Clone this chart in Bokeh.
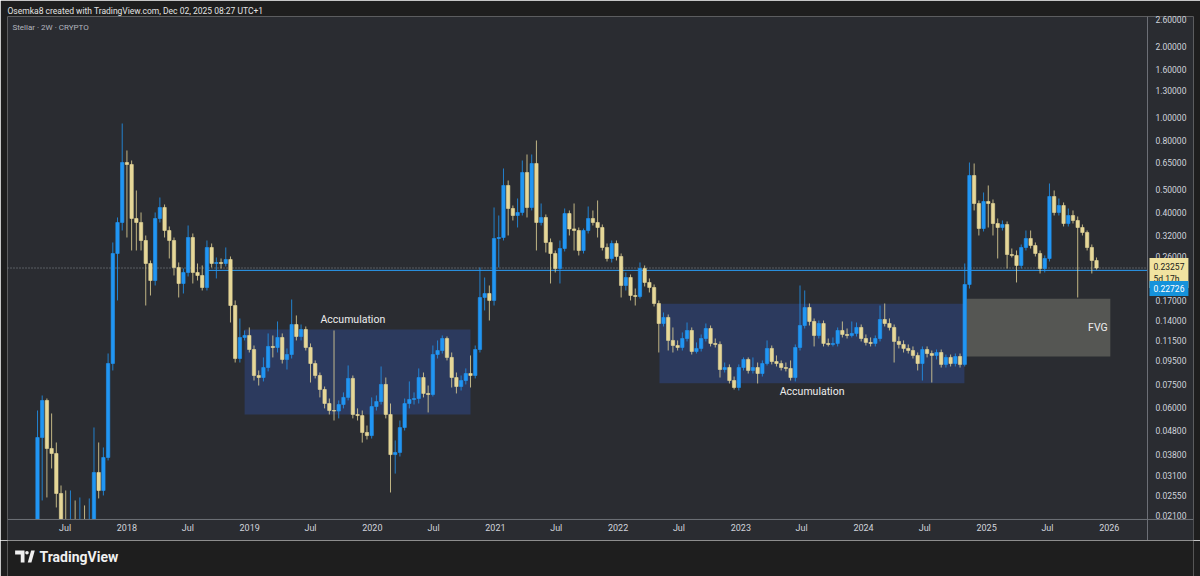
import pandas as pd
from bokeh.plotting import figure
from bokeh.models import (ColumnDataSource, FixedTicker, PrintfTickFormatter,
                          CustomJSTickFormatter, Label, Span, Range1d, Title)
from bokeh.layouts import column
from bokeh.embed import file_html
from bokeh.resources import INLINE

# ---------------- data (XLM, 2W candles) ----------------
first_open = 0.01733
close = [
    0.04486, 0.06426, 0.04032, 0.03841, 0.02605, 0.01819, 0.01733, 0.01854, 0.01733, 0.01819,
    0.01683, 0.01909, 0.03194, 0.02682, 0.03695, 0.09204, 0.2678, 0.3619, 0.6479, 0.6355,
    0.3762, 0.3619, 0.3038, 0.2430, 0.2060, 0.3762, 0.4186, 0.3348, 0.3038, 0.2338,
    0.2001, 0.2227, 0.3128, 0.2227, 0.2163, 0.1925, 0.2839, 0.2430, 0.2454, 0.2430,
    0.2527, 0.1616, 0.0966, 0.1185, 0.1208, 0.1054, 0.0819, 0.0803, 0.0885, 0.1086,
    0.1075, 0.1185, 0.0957, 0.1004, 0.1344, 0.1196, 0.1280, 0.1075, 0.0920, 0.0819,
    0.0715, 0.0624, 0.0583, 0.0580, 0.0618, 0.0662, 0.0796, 0.0561, 0.0555, 0.0471,
    0.0457, 0.0606, 0.0636, 0.0751, 0.0561, 0.0380, 0.0388, 0.0494, 0.0624, 0.0649,
    0.0655, 0.0803, 0.0688, 0.0681, 0.1004, 0.1044, 0.1173, 0.0976, 0.0803, 0.0736,
    0.0780, 0.0835, 0.0819, 0.1054, 0.1747, 0.1816, 0.1697, 0.3098, 0.3128, 0.5183,
    0.4145, 0.3873, 0.3988, 0.5880, 0.4186, 0.6417, 0.3619, 0.3799, 0.2980, 0.2678,
    0.2315, 0.2811, 0.3949, 0.3400, 0.3348, 0.2757, 0.3348, 0.3762, 0.3619, 0.3447,
    0.2839, 0.2551, 0.2951, 0.2601, 0.1963, 0.2121, 0.1781, 0.1764, 0.2315, 0.2021,
    0.1925, 0.1648, 0.1357, 0.1439, 0.1151, 0.1096, 0.1075, 0.1173, 0.1268, 0.1034,
    0.1065, 0.1173, 0.1293, 0.1118, 0.1107, 0.0868, 0.0885, 0.0780, 0.0729, 0.0885,
    0.0957, 0.0860, 0.0885, 0.0835, 0.0920, 0.1065, 0.0938, 0.0920, 0.0885, 0.0877,
    0.0803, 0.1075, 0.1331, 0.1585, 0.1384, 0.1208, 0.1357, 0.1118, 0.1107, 0.1118,
    0.1268, 0.1220, 0.1208, 0.1232, 0.1306, 0.1173, 0.1129, 0.1118, 0.1173, 0.1411,
    0.1357, 0.1306, 0.1140, 0.1107, 0.1065, 0.1044, 0.0995, 0.0920, 0.1054, 0.1014,
    0.0995, 0.1024, 0.0912, 0.0976, 0.0920, 0.0985, 0.0912, 0.1982, 0.5711, 0.4352,
    0.3414, 0.4437, 0.4352, 0.3584, 0.3447, 0.3549, 0.2652, 0.2627, 0.2384, 0.2839,
    0.3098, 0.2894, 0.2678, 0.2315, 0.2551, 0.4658, 0.3988, 0.4268, 0.3584, 0.3873,
    0.3690, 0.3447, 0.3284, 0.2839, 0.2502, 0.23257,
]
high = [
    0.05831, 0.06745, 0.06552, 0.05664, 0.04274, 0.02815, 0.02682, 0.02682, 0.02434, 0.02506,
    0.02319, 0.02482, 0.04944, 0.04274, 0.04072, 0.10142, 0.2980, 0.3799, 0.9462, 0.7280,
    0.6606, 0.4937, 0.3988, 0.3189, 0.2502, 0.3988, 0.4613, 0.4310, 0.3481, 0.3128,
    0.2454, 0.2315, 0.3515, 0.3252, 0.2430, 0.2384, 0.3038, 0.2951, 0.2576, 0.2551,
    0.2839, 0.2601, 0.1697, 0.1425, 0.1268, 0.1306, 0.1096, 0.0860, 0.0976, 0.1232,
    0.1208, 0.1384, 0.1232, 0.1065, 0.1713, 0.1467, 0.1344, 0.1318, 0.1118, 0.0948,
    0.0843, 0.0736, 0.0655, 0.1268, 0.0643, 0.0695, 0.0903, 0.0819, 0.0595, 0.0583,
    0.0504, 0.0662, 0.0675, 0.0894, 0.0803, 0.0624, 0.0436, 0.0529, 0.0655, 0.0773,
    0.0695, 0.0877, 0.0843, 0.0743, 0.1096, 0.1151, 0.1208, 0.1196, 0.1024, 0.0843,
    0.0819, 0.0877, 0.0995, 0.1096, 0.2338, 0.2121, 0.1963, 0.4186, 0.3873, 0.6113,
    0.5440, 0.4268, 0.4568, 0.6606, 0.7003, 0.7003, 0.8022, 0.4352, 0.3911, 0.3098,
    0.2757, 0.3038, 0.4145, 0.4066, 0.4352, 0.3447, 0.3414, 0.4227, 0.4066, 0.4480,
    0.3549, 0.2951, 0.3038, 0.3038, 0.2678, 0.2227, 0.2184, 0.1906, 0.2454, 0.2384,
    0.2101, 0.1982, 0.1697, 0.1510, 0.1481, 0.1306, 0.1151, 0.1244, 0.1370, 0.1306,
    0.1129, 0.1220, 0.1357, 0.1331, 0.1173, 0.1140, 0.0929, 0.0912, 0.0811, 0.0912,
    0.0976, 0.0976, 0.0976, 0.0929, 0.0948, 0.1151, 0.1096, 0.0995, 0.0948, 0.0929,
    0.0948, 0.1107, 0.1963, 0.1870, 0.1648, 0.1425, 0.1397, 0.1397, 0.1173, 0.1185,
    0.1306, 0.1384, 0.1293, 0.1384, 0.1370, 0.1344, 0.1220, 0.1185, 0.1208, 0.1616,
    0.1648, 0.1425, 0.1344, 0.1196, 0.1151, 0.1107, 0.1086, 0.1024, 0.1086, 0.1086,
    0.1044, 0.1054, 0.1054, 0.1004, 0.1004, 0.1014, 0.1014, 0.2430, 0.6479, 0.6417,
    0.4480, 0.4842, 0.5183, 0.4524, 0.3762, 0.3690, 0.3654, 0.2811, 0.2757, 0.2923,
    0.3348, 0.3348, 0.2980, 0.2757, 0.2627, 0.5284, 0.4937, 0.4568, 0.4394, 0.4145,
    0.4066, 0.3836, 0.3549, 0.3348, 0.2923, 0.2576,
]
low = [
    0.01572, 0.02434, 0.02506, 0.03321, 0.02274, 0.01572, 0.01497, 0.01527, 0.01497, 0.01468,
    0.01426, 0.01468, 0.01819, 0.02482, 0.02555, 0.03589, 0.08599, 0.1697, 0.3348, 0.3128,
    0.2757, 0.2757, 0.2757, 0.1616, 0.1781, 0.1963, 0.3619, 0.3128, 0.2551, 0.2163,
    0.1747, 0.1816, 0.2142, 0.2001, 0.2060, 0.1870, 0.1870, 0.2338, 0.2101, 0.2315,
    0.2361, 0.1370, 0.0929, 0.0929, 0.1151, 0.1024, 0.0780, 0.0743, 0.0773, 0.0852,
    0.0976, 0.1024, 0.0920, 0.0868, 0.0966, 0.1151, 0.1151, 0.1044, 0.0765, 0.0796,
    0.0662, 0.0595, 0.0561, 0.0529, 0.0540, 0.0595, 0.0643, 0.0540, 0.0529, 0.0427,
    0.0440, 0.0444, 0.0583, 0.0618, 0.0540, 0.0263, 0.0316, 0.0373, 0.0480, 0.0595,
    0.0618, 0.0624, 0.0662, 0.0572, 0.0668, 0.0966, 0.1014, 0.0948, 0.0729, 0.0688,
    0.0708, 0.0751, 0.0729, 0.0796, 0.1024, 0.1540, 0.1397, 0.1616, 0.2338, 0.3038,
    0.3189, 0.3690, 0.3447, 0.3873, 0.3799, 0.4066, 0.2757, 0.3515, 0.2704, 0.2001,
    0.2227, 0.2001, 0.2731, 0.3189, 0.2757, 0.2627, 0.2678, 0.3252, 0.3515, 0.3128,
    0.2757, 0.2478, 0.2454, 0.2502, 0.1747, 0.1870, 0.1697, 0.1616, 0.1730, 0.1944,
    0.1834, 0.1601, 0.1024, 0.1318, 0.1044, 0.1024, 0.1044, 0.1044, 0.1140, 0.1004,
    0.1014, 0.1034, 0.1140, 0.1086, 0.1075, 0.0803, 0.0843, 0.0758, 0.0715, 0.0708,
    0.0860, 0.0835, 0.0835, 0.0758, 0.0811, 0.0903, 0.0912, 0.0894, 0.0860, 0.0852,
    0.0780, 0.0773, 0.1044, 0.1293, 0.1331, 0.1086, 0.1173, 0.1086, 0.1086, 0.1086,
    0.1086, 0.1185, 0.1173, 0.1185, 0.1196, 0.1140, 0.1096, 0.1086, 0.1086, 0.1140,
    0.1318, 0.1268, 0.0929, 0.1065, 0.1024, 0.1014, 0.0966, 0.0860, 0.0780, 0.0976,
    0.0765, 0.0957, 0.0885, 0.0885, 0.0894, 0.0894, 0.0885, 0.0894, 0.1906, 0.4066,
    0.3189, 0.3316, 0.3447, 0.3189, 0.2551, 0.3348, 0.2315, 0.2576, 0.2021, 0.2315,
    0.2757, 0.2811, 0.2601, 0.2205, 0.2227, 0.2478, 0.3873, 0.3873, 0.3481, 0.3481,
    0.3584, 0.1747, 0.3189, 0.2757, 0.2205, 0.2290,
]
open_ = [first_open] + close[:-1]
dates = pd.date_range("2017-04-10", periods=len(close), freq="14D")

x_tick_dates = ["2017-07-01", "2018-01-01", "2018-07-01", "2019-01-01", "2019-07-01",
                "2020-01-01", "2020-07-01", "2021-01-01", "2021-07-01", "2022-01-01",
                "2022-07-01", "2023-01-01", "2023-07-01", "2024-01-01", "2024-07-01",
                "2025-01-01", "2025-07-01", "2026-01-01"]
x_tick_labels = ["Jul", "2018", "Jul", "2019", "Jul", "2020", "Jul", "2021", "Jul", "2022",
                 "Jul", "2023", "Jul", "2024", "Jul", "2025", "Jul", "2026"]
y_ticks = [0.021, 0.0255, 0.031, 0.038, 0.048, 0.06, 0.075, 0.095, 0.115, 0.14, 0.17,
           0.26, 0.32, 0.40, 0.50, 0.65, 0.80, 1.0, 1.3, 1.6, 2.0, 2.6]

# drawings
accum_left = ["2018-12-17", "2022-05-04"]
accum_right = ["2020-10-19", "2024-10-27"]
accum_top = [0.128, 0.1643]
accum_bottom = [0.0561, 0.0760]
fvg_left, fvg_right, fvg_top, fvg_bottom = "2024-11-02", "2026-01-04", 0.1725, 0.0986
level_start, level_price = "2018-08-28", 0.22726
last_price = 0.23257

# ---------------- layout / styling ----------------
PANE = "#2a2c31"
OUTER = "#1e1e1e"
UP = "#2196f3"
DOWN = "#e6d798"
TXT = "#d1d4dc"
SEP = "#6e7178"
FONT = "Roboto"
W = 1200


def ts(s):
    return pd.Timestamp(s)


X0, X1 = ts("2017-01-10 19:00"), ts("2026-09-08 10:00")   # pane incl. price-scale strip
AXIS_X = ts("2026-04-24 14:00")                           # price-scale separator
Y0, Y1 = 0.01650, 2.674                                   # pane incl. time-scale strip
AXIS_Y = 0.02024                                          # time-scale separator

p = figure(width=W, height=540, output_backend="svg", toolbar_location=None,
           x_axis_type="datetime", y_axis_type="log",
           x_range=Range1d(X0, X1), y_range=Range1d(Y0, Y1),
           y_axis_location="right",
           min_border_left=7, min_border_right=7, min_border_top=16, min_border_bottom=0)
p.background_fill_color = PANE
p.border_fill_color = OUTER
p.outline_line_color = None
p.grid.visible = False

p.add_layout(Title(text="Osemka8 created with TradingView.com, Dec 02, 2025 08:27 UTC+1",
                   align="left", offset=0, standoff=2, text_font=FONT,
                   text_font_size="8.5px", text_font_style="normal", text_color="#e3e3e3"),
             "above")

# boxes
p.quad(left=[ts(d) for d in accum_left], right=[ts(d) for d in accum_right],
       top=accum_top, bottom=accum_bottom, fill_color="#2c3a5e", line_color=None)
p.quad(left=[ts(fvg_left)], right=[ts(fvg_right)], top=[fvg_top], bottom=[fvg_bottom],
       fill_color="#555653", line_color=None)

# current-price dotted line and horizontal level
p.segment(x0=[X0], y0=[last_price], x1=[AXIS_X], y1=[last_price], line_color="#8b8e96",
          line_dash="1 2", line_width=1)
p.segment(x0=[ts(level_start)], y0=[level_price], x1=[AXIS_X], y1=[level_price],
          line_color="#2a9df4", line_width=1)

# candles
colors = [UP if c >= o else DOWN for o, c in zip(open_, close)]
src = ColumnDataSource(dict(
    date=dates, open=open_, high=high, low=low, close=close, color=colors,
    top=[max(o, c) for o, c in zip(open_, close)],
    bottom=[min(o, c) for o, c in zip(open_, close)],
))
p.segment(x0="date", y0="low", x1="date", y1="high", line_color="color",
          line_alpha=0.8, line_width=1, source=src)
p.vbar(x="date", width=10 * 86400000, top="top", bottom="bottom",
       fill_color="color", line_color="color", line_width=0.6, source=src)

# time-scale strip (covers what lies below the visible price range)
p.quad(left=[X0], right=[X1], top=[AXIS_Y], bottom=[Y0], fill_color=PANE, line_color=None)
p.add_layout(Span(location=AXIS_Y, dimension="width", line_color=SEP, line_width=1))
p.add_layout(Span(location=AXIS_X, dimension="height", line_color=SEP, line_width=1))

# axes (labels drawn inside the scale strips)
p.yaxis.ticker = FixedTicker(ticks=y_ticks, minor_ticks=[])
p.yaxis.formatter = PrintfTickFormatter(format="%.5f")
p.yaxis.major_label_text_font = FONT
p.yaxis.major_label_text_font_size = "8.5px"
p.yaxis.major_label_text_color = TXT
p.yaxis.major_tick_line_color = None
p.yaxis.minor_tick_line_color = None
p.yaxis.major_tick_out = 0
p.yaxis.major_tick_in = 0
p.yaxis.axis_line_color = None
p.yaxis.major_label_standoff = -38

tick_ms = [ts(d).timestamp() * 1000 for d in x_tick_dates]
p.xaxis.ticker = FixedTicker(ticks=tick_ms, minor_ticks=[])
p.xaxis.formatter = CustomJSTickFormatter(args=dict(tpos=tick_ms, tlab=x_tick_labels), code="""
    let best = 0, bd = Infinity;
    for (let i = 0; i < tpos.length; i++) {
        const d = Math.abs(tpos[i] - tick);
        if (d < bd) { bd = d; best = i; }
    }
    return tlab[best];
""")
p.xaxis.major_label_text_font = FONT
p.xaxis.major_label_text_font_size = "9px"
p.xaxis.major_label_text_color = TXT
p.xaxis.major_tick_line_color = None
p.xaxis.minor_tick_line_color = None
p.xaxis.major_tick_out = 0
p.xaxis.major_tick_in = 0
p.xaxis.axis_line_color = None
p.xaxis.major_label_standoff = -18

# texts
p.add_layout(Label(x=5, y=513, x_units="screen", y_units="screen",
                   text="Stellar · 2W · CRYPTO", text_font=FONT, text_font_size="8px",
                   text_color="#b2b5be", text_baseline="middle"))
p.add_layout(Label(x=ts("2019-11-04"), y=0.1411, text="Accumulation", text_font=FONT,
                   text_font_size="10.5px", text_color="#eeeeee",
                   text_align="center", text_baseline="middle"))
p.add_layout(Label(x=ts("2023-08-01"), y=0.0701, text="Accumulation", text_font=FONT,
                   text_font_size="10.5px", text_color="#eeeeee",
                   text_align="center", text_baseline="middle"))
p.add_layout(Label(x=ts("2025-11-28"), y=0.1306, text="FVG", text_font=FONT,
                   text_font_size="10.5px", text_color="#eeeeee",
                   text_align="center", text_baseline="middle"))

# price tags on the price scale
p.add_layout(Label(x=1142, y=267.5, x_units="screen", y_units="screen",
                   text="0.23257\n5d 17h", text_font=FONT, text_font_size="8.5px",
                   text_color="#1a1a1a", text_align="left", text_baseline="middle",
                   background_fill_color="#f1e3a0", padding=4))
p.add_layout(Label(x=1142, y=252, x_units="screen", y_units="screen",
                   text="0.22726", text_font=FONT, text_font_size="8.5px",
                   text_color="#ffffff", text_align="left", text_baseline="middle",
                   background_fill_color="#1592db", padding=4))

# footer: logo + wordmark
ftr = figure(width=W, height=36, output_backend="svg", toolbar_location=None,
             x_range=Range1d(0, W), y_range=Range1d(0, 36),
             x_axis_location=None, y_axis_location=None, min_border=0)
ftr.grid.visible = False
ftr.outline_line_color = None
ftr.background_fill_color = OUTER
ftr.border_fill_color = OUTER
logo_col = "#f0f0f0"
ftr.patches(xs=[[7.7, 17.2, 17.2, 13.4, 13.4, 7.7], [20.5, 24.2, 27.6, 23.9]],
            ys=[[26, 26, 14, 14, 22, 22], [14, 14, 26, 26]],
            fill_color=logo_col, line_color=None)
ftr.scatter(x=[19.7], y=[23.8], size=3.6, fill_color=logo_col, line_color=None)
ftr.add_layout(Label(x=32, y=20, x_units="screen", y_units="screen", text="TradingView",
                     text_font=FONT, text_font_size="14px", text_font_style="bold",
                     text_color="#f0f0f0", text_baseline="middle"))

layout = column(p, ftr, spacing=0)
open("out.html", "w").write(file_html(layout, INLINE))
